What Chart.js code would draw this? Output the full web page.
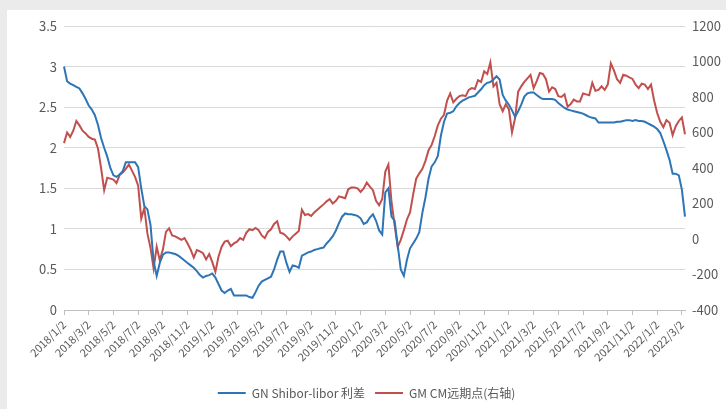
<!DOCTYPE html>
<html>
<head>
<meta charset="utf-8">
<script src="https://cdn.jsdelivr.net/npm/chart.js@4.4.1/dist/chart.umd.min.js"></script>
<style>
  html, body { margin: 0; padding: 0; background: #ebebeb; }
  #wrap { position: absolute; left: 7px; top: 10px; width: 719px; height: 399px; background: #fff; }
</style>
</head>
<body>
<div id="wrap"><canvas id="chart" width="719" height="399"></canvas></div>
<script>
// 数据：每月取 2、9、16、23 日
const startYear = 2018;
const sampleDays = [2, 9, 16, 23];
const pointCount = 202;

// GN Shibor-libor 利差（左轴）
const spreadValues = [
  3.00, 2.82, 2.79, 2.77,  2.75, 2.73, 2.67, 2.60,  2.52, 2.47, 2.40, 2.28,
  2.12, 2.00, 1.89, 1.75,  1.66, 1.64, 1.67, 1.71,  1.82, 1.82, 1.82, 1.82,
  1.76, 1.50, 1.28, 1.24,  1.05, 0.60, 0.42, 0.58,  0.68, 0.71, 0.71, 0.70,
  0.69, 0.67, 0.64, 0.61,  0.58, 0.55, 0.52, 0.48,  0.43, 0.40, 0.42, 0.43,
  0.45, 0.40, 0.32, 0.24,  0.21, 0.24, 0.26, 0.18,  0.18, 0.18, 0.18, 0.18,
  0.16, 0.15, 0.22, 0.30,  0.35, 0.37, 0.39, 0.41,  0.50, 0.62, 0.72, 0.72,
  0.58, 0.47, 0.55, 0.54,  0.52, 0.67, 0.69, 0.71,  0.72, 0.74, 0.75, 0.76,
  0.77, 0.82, 0.86, 0.91,  0.98, 1.07, 1.15, 1.19,  1.18, 1.18, 1.17, 1.16,
  1.13, 1.06, 1.08, 1.14,  1.18, 1.10, 0.98, 0.93,  1.45, 1.50, 1.15, 1.10,
  0.80, 0.50, 0.42, 0.62,  0.76, 0.82, 0.88, 0.96,  1.20, 1.39, 1.62, 1.77,
  1.82, 1.90, 2.15, 2.32,  2.42, 2.43, 2.45, 2.51,  2.55, 2.58, 2.60, 2.62,
  2.63, 2.64, 2.68, 2.72,  2.77, 2.80, 2.81, 2.84,  2.88, 2.84, 2.65, 2.58,
  2.53, 2.46, 2.38, 2.45,  2.53, 2.63, 2.67, 2.68,  2.68, 2.65, 2.62, 2.60,
  2.60, 2.60, 2.60, 2.59,  2.55, 2.52, 2.49, 2.47,  2.46, 2.45, 2.44, 2.43,
  2.42, 2.40, 2.38, 2.37,  2.36, 2.31, 2.31, 2.31,  2.31, 2.31, 2.31, 2.32,
  2.32, 2.33, 2.34, 2.34,  2.33, 2.34, 2.33, 2.33,  2.32, 2.30, 2.28, 2.26,
  2.23, 2.18, 2.08, 1.97,  1.85, 1.68, 1.68, 1.66,  1.48, 1.15
];

// GM CM远期点（右轴）
const forwardValues = [
  540, 600, 575, 610,  665, 640, 610, 595,  575, 565, 560, 510,
  400, 275, 345, 340,  335, 315, 360, 375,  395, 420, 385, 350,
  300, 115, 175, 30,  -50, -165, -44, -120,  -60, 40, 60, 20,
  15, 5, -5, 5,  -25, -60, -105, -62,  -70, -80, -115, -85,
  -130, -185, -100, -45,  -15, -10, -40, -25,  -15, 5, -5, 35,
  55, 50, 62, 50,  20, 5, 40, 55,  85, 100, 35, 30,
  15, -5, 15, 30,  45, 165, 135, 140,  130, 150, 165, 180,
  195, 212, 225, 200,  215, 240, 235, 230,  280, 290, 290, 285,
  265, 285, 318, 295,  275, 215, 190, 225,  380, 420, 210, 80,
  -45, -5, 50, 110,  150, 250, 340, 370,  395, 440, 500, 530,
  580, 640, 678, 700,  780, 820, 770, 790,  805, 810, 805, 840,
  850, 845, 895, 885,  945, 930, 995, 860,  880, 760, 720, 760,
  730, 600, 680, 830,  860, 885, 905, 925,  850, 890, 935, 930,
  900, 830, 855, 845,  805, 800, 815, 745,  760, 785, 775, 775,
  820, 815, 810, 880,  835, 840, 860, 840,  870, 990, 950, 900,
  880, 925, 920, 910,  902, 870, 850, 875,  870, 845, 870, 780,
  710, 660, 630, 670,  655, 585, 635, 665,  685, 590
];

const leftTicks = { min: 0, max: 3.5, step: 0.5 };
const rightTicks = { min: -400, max: 1200, step: 200 };

// 日期标签
const dateLabels = [];
const tickFlags = [];
for (let k = 0; dateLabels.length < pointCount; k++) {
  const y = startYear + Math.floor(k / 4 / 12);
  const m = Math.floor(k / 4) % 12 + 1;
  const d = sampleDays[k % 4];
  dateLabels.push(y + '/' + m + '/' + d);
  tickFlags.push(d === 2 && m % 2 === 1);
}

const textColor = '#595959';
const gridColor = '#d9d9d9';
Chart.defaults.font.family = '"Noto Sans CJK SC", "Noto Sans", sans-serif';
Chart.defaults.color = textColor;

const ctx = document.getElementById('chart').getContext('2d');
new Chart(ctx, {
  type: 'line',
  data: {
    labels: dateLabels,
    datasets: [{
      label: 'GN Shibor-libor 利差',
      data: spreadValues,
      borderColor: '#2e75b6',
      backgroundColor: '#2e75b6',
      borderWidth: 2,
      pointRadius: 0,
      tension: 0,
      yAxisID: 'y'
    }, {
      label: 'GM CM远期点(右轴)',
      data: forwardValues,
      borderColor: '#c0504d',
      backgroundColor: '#c0504d',
      borderWidth: 2,
      pointRadius: 0,
      tension: 0,
      yAxisID: 'y1'
    }]
  },
  options: {
    responsive: false,
    animation: false,
    layout: { padding: { top: 16, left: 0, right: 0, bottom: 0 } },
    plugins: {
      legend: {
        position: 'bottom',
        labels: {
          usePointStyle: true,
          pointStyle: 'line',
          pointStyleWidth: 28,
          font: { size: 12 },
          color: textColor,
          padding: 10
        }
      },
      tooltip: { enabled: false }
    },
    scales: {
      x: {
        offset: false,
        grid: {
          drawOnChartArea: false,
          tickLength: 5,
          color: c => tickFlags[c.index] ? '#bfbfbf' : 'transparent'
        },
        border: { display: true, color: '#bfbfbf' },
        ticks: {
          autoSkip: false,
          minRotation: 45,
          maxRotation: 45,
          font: { size: 11 },
          color: textColor,
          callback: (v, i) => tickFlags[i] ? dateLabels[i] : ''
        },
        afterFit: s => { s.height = 67; }
      },
      y: {
        position: 'left',
        min: leftTicks.min,
        max: leftTicks.max,
        grid: { color: gridColor, drawTicks: false },
        border: { display: false },
        ticks: {
          stepSize: leftTicks.step,
          padding: 7,
          font: { size: 13 },
          color: textColor,
          callback: v => String(v)
        },
        afterFit: s => { s.width = 57; }
      },
      y1: {
        position: 'right',
        min: rightTicks.min,
        max: rightTicks.max,
        grid: { drawOnChartArea: false, drawTicks: false },
        border: { display: false },
        ticks: {
          stepSize: rightTicks.step,
          padding: 7,
          font: { size: 13 },
          color: textColor,
          callback: v => String(v)
        },
        afterFit: s => { s.width = 41; }
      }
    }
  }
});
</script>
</body>
</html>
